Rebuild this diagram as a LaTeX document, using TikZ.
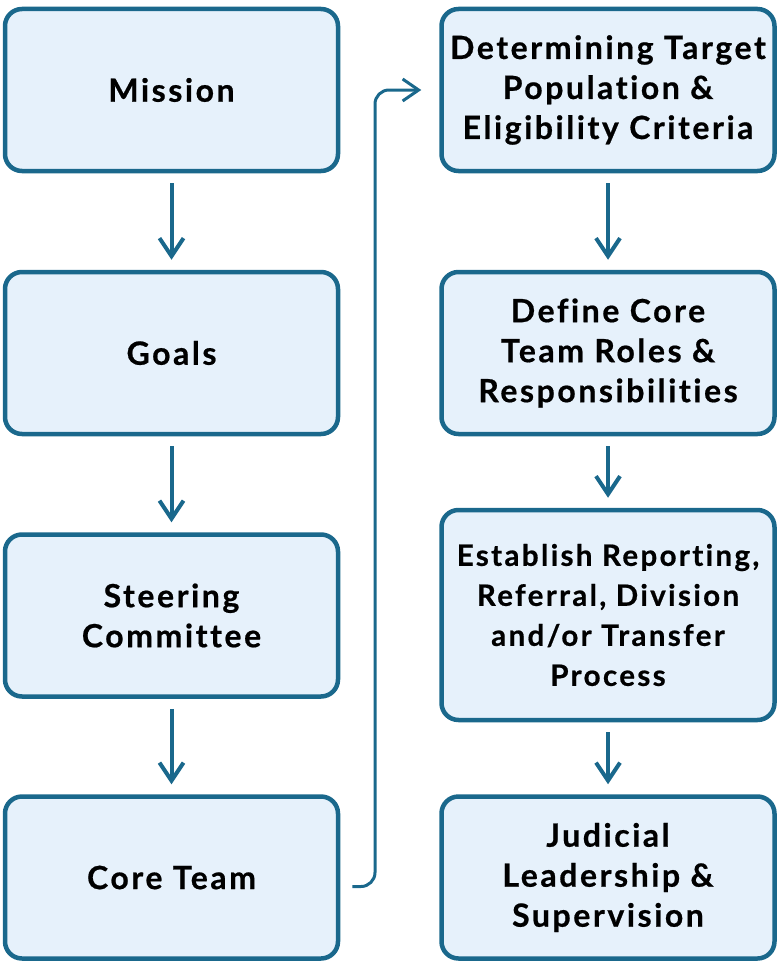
\documentclass[tikz,border=0pt]{standalone}
\usepackage{fontspec}
\setmainfont{Lato}[LetterSpace=8,Ligatures=NoCommon,BoldFeatures={FakeBold=0.6}]
\usetikzlibrary{arrows.meta,calc}
\definecolor{edgeblue}{RGB}{26,104,140}
\definecolor{boxfill}{RGB}{230,241,251}
\begin{document}
\begin{tikzpicture}[x=1pt,y=-1pt,
  box/.style={draw=edgeblue,fill=boxfill,line width=4.5pt,rounded corners=17pt,
    minimum width=333pt,minimum height=162pt,align=center,
    font=\fontsize{32}{40}\selectfont\bfseries,text=black,inner sep=0pt},
  flow/.style={draw=edgeblue,line width=4pt,-{Straight Barb[length=18pt,width=24pt,line width=4pt]},
    shorten <=10pt,shorten >=10pt},
  conn/.style={draw=edgeblue,line width=3pt,-{Straight Barb[length=16pt,width=22pt,line width=3pt]},
    rounded corners=14pt,shorten >=18pt}]
\useasboundingbox (0,0) rectangle (781,966);
\node[box] (mission) at (171.5,90) {Mission};
\node[box] (goals) at (171.5,353) {Goals};
\node[box] (steer) at (171.5,615.5) {Steering\\Committee};
\node[box] (core) at (171.5,877.5) {Core Team};
\node[box] (det) at (608,90) {Determining Target\\Population \&\\Eligibility Criteria};
\node[box] (def) at (608,353) {Define Core\\Team Roles \&\\Responsibilities};
\node[box,minimum height=210pt,font=\fontsize{29.5}{40}\selectfont\bfseries] (est) at (608,615) {Establish Reporting,\\Referral, Division\\and/or Transfer\\Process};
\node[box] (jud) at (608,877.5) {Judicial\\Leadership \&\\Supervision};
\draw[flow] (mission) -- (goals);
\draw[flow] (goals) -- (steer);
\draw[flow] (steer) -- (core);
\draw[flow] (det) -- (def);
\draw[flow] (def) -- (est);
\draw[flow] (est) -- (jud);
\coordinate (s) at ([xshift=12pt,yshift=-9pt]core.east);
\coordinate (v) at (375,0);
\draw[conn] (s) -| (det.west -| v) -- (det.west);
\end{tikzpicture}
\end{document}
